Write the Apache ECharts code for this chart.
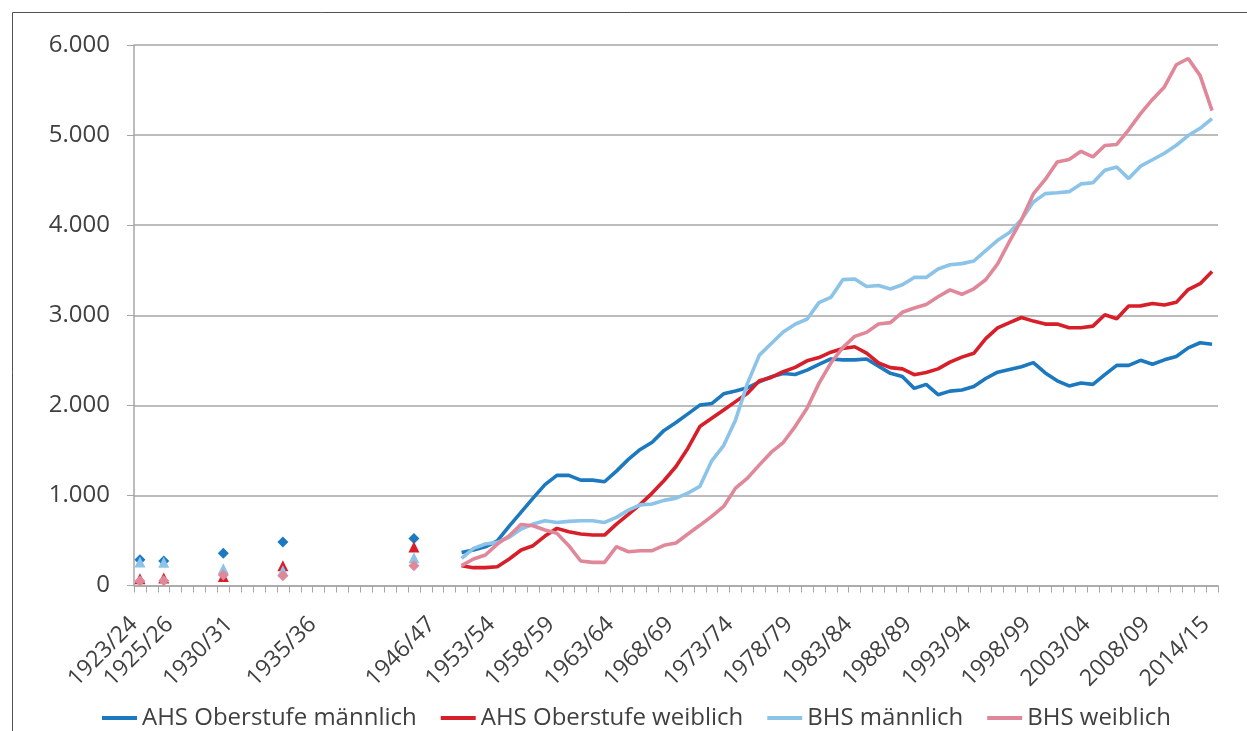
<!DOCTYPE html>
<html><head><meta charset="utf-8">
<script src="https://cdn.jsdelivr.net/npm/echarts@6/dist/echarts.min.js"></script>
<style>html,body{margin:0;padding:0;background:#fff}#c{width:1247px;height:731px}</style>
</head><body><div id="c"></div>
<script>
// school years on the category axis (one category per year, as in the source chart)
const categories = [
 '1923/24','1924/25','1925/26','1926/27','1927/28','1928/29','1929/30','1930/31','1931/32','1932/33',
 '1933/34','1934/35','1935/36','1936/37','1937/38','1938/39','1939/40','1940/41','1941/42','1942/43',
 '1943/44','1944/45','1945/46','1946/47','1947/48','1948/49','1949/50','1950/51','1951/52','1952/53',
 '1953/54','1954/55','1955/56','1956/57','1957/58','1958/59','1959/60','1960/61','1961/62','1962/63',
 '1963/64','1964/65','1965/66','1966/67','1967/68','1968/69','1969/70','1970/71','1971/72','1972/73',
 '1973/74','1974/75','1975/76','1976/77','1977/78','1978/79','1979/80','1980/81','1981/82','1982/83',
 '1983/84','1984/85','1985/86','1986/87','1987/88','1988/89','1989/90','1990/91','1991/92','1992/93',
 '1993/94','1994/95','1995/96','1996/97','1997/98','1998/99','1999/00','2000/01','2001/02','2002/03',
 '2003/04','2004/05','2005/06','2006/07','2007/08','2008/09','2009/10','2010/11','2011/12','2012/13',
 '2014/15'
];
// labels shown on the x axis and the category slot each one sits under in the source picture
const tickLabels = ['1923/24','1925/26','1930/31','1935/36','1946/47','1953/54','1958/59','1963/64','1968/69',
 '1973/74','1978/79','1983/84','1988/89','1993/94','1998/99','2003/04','2008/09','2014/15'];
const tickSlots = [0,3,8,15,25,30,35,40,45,50,55,60,65,70,75,80,85,90];
const yTicks = [0,1000,2000,3000,4000,5000,6000];

// isolated early observations
const earlyYears = ['1923/24','1925/26','1930/31','1935/36','1946/47'];
const ahsMaleEarly   = [285, 272, 357, 482, 523];
const ahsFemaleEarly = [76, 83, 100, 220, 427];
const bhsMaleEarly   = [262, 257, 185, 165, 309];
const bhsFemaleEarly = [50, 52, 116, 109, 220];

// continuous series from 1950/51 to 2014/15
const lineStartYear = '1950/51';
const ahsMale = [365,395,430,495,660,815,970,1120,1222,1222,1170,1170,1152,1270,1400,1510,1590,1722,1810,1905,
 2002,2020,2128,2160,2195,2262,2317,2354,2343,2391,2455,2515,2505,2505,2515,2435,2355,2320,2188,2233,
 2118,2158,2170,2210,2298,2368,2398,2428,2474,2360,2272,2215,2248,2233,2340,2444,2444,2500,2456,2505,
 2542,2638,2695,2678];
const ahsFemale = [220,198,198,209,294,394,442,549,634,597,571,560,560,682,789,900,1026,1166,1321,1524,
 1764,1856,1948,2041,2133,2273,2310,2373,2421,2494,2530,2590,2630,2650,2580,2470,2419,2405,2340,2365,
 2405,2480,2535,2578,2740,2860,2918,2975,2935,2902,2902,2862,2862,2879,3005,2962,3102,3104,3130,3113,
 3143,3285,3350,3485];
const bhsMale = [301,412,460,479,534,627,682,719,700,712,719,719,700,756,837,895,904,945,970,1026,
 1100,1384,1553,1838,2244,2557,2686,2815,2900,2956,3140,3198,3395,3403,3320,3330,3292,3338,3420,3420,
 3514,3560,3573,3602,3718,3832,3918,4062,4258,4350,4360,4372,4458,4470,4610,4646,4517,4655,4726,4798,
 4887,4995,5075,5183];
const bhsFemale = [220,294,338,460,553,678,664,616,579,442,272,257,257,431,375,386,387,446,472,572,
 668,768,878,1081,1192,1339,1480,1587,1764,1967,2244,2470,2640,2765,2810,2903,2918,3033,3080,3120,
 3205,3282,3233,3294,3394,3570,3820,4060,4347,4508,4702,4730,4820,4758,4884,4896,5059,5238,5396,5535,
 5781,5850,5660,5272];

const names = ['AHS Oberstufe männlich','AHS Oberstufe weiblich','BHS männlich','BHS weiblich'];
const colors = ['#1c79bf','#d71f2a','#8cc3e8','#e0889a'];
const markers = ['diamond','triangle','triangle','diamond'];

function lineData(vals){
  const d = categories.map(() => '-');
  const s = categories.indexOf(lineStartYear);
  vals.forEach((v,i) => { d[s+i] = v; });
  return d;
}
function earlyData(vals){
  const d = categories.map(() => '-');
  earlyYears.forEach((y,i) => { d[categories.indexOf(y)] = vals[i]; });
  return d;
}
const lines = [ahsMale, ahsFemale, bhsMale, bhsFemale];
const earlies = [ahsMaleEarly, ahsFemaleEarly, bhsMaleEarly, bhsFemaleEarly];

const series = [];
names.forEach((n,k) => {
  series.push({name:n, type:'line', data: lineData(lines[k]), symbol:'none', connectNulls:false,
    lineStyle:{color:colors[k], width:3.6}, itemStyle:{color:colors[k]}, z: 2+k});
});
names.forEach((n,k) => {
  series.push({name:n, type:'scatter', data: earlyData(earlies[k]), symbol: markers[k],
    symbolSize: 11, itemStyle:{color:colors[k], opacity:1}, z: 10+k});
});

const txt = '#404040';
const font = 'Open Sans';
const chart = echarts.init(document.getElementById('c'), null, {renderer:'canvas'});
chart.setOption({
  animation:false,
  backgroundColor:'#fff',
  graphic:[{type:'rect', shape:{x:12.5, y:12.5, width:1400, height:900},
    style:{fill:'none', stroke:'#505050', lineWidth:1}, silent:true}],
  grid:{left:134, right:29, top:45, bottom:145.5, containLabel:false},
  legend:{data: names.map(n => ({name:n, icon:'rect'})), left:102, top:706, padding:0, itemWidth:35, itemHeight:4,
    itemGap:24, selectedMode:false, textStyle:{fontFamily:font, fontSize:24, color:txt, lineHeight:24}},
  xAxis:{type:'category', data:categories, boundaryGap:true,
    axisLine:{lineStyle:{color:'#a6a6a6', width:1.5}},
    axisTick:{show:true, interval:0, length:7, lineStyle:{color:'#a6a6a6'}},
    axisLabel:{interval:(i) => tickSlots.includes(i),
      formatter:(v,i) => { const j = tickSlots.indexOf(i); return j >= 0 ? tickLabels[j] : ''; },
      rotate:45, align:'right', verticalAlign:'top', padding:[0,20,0,0],
      margin:13, fontFamily:font, fontSize:23, color:txt, lineHeight:23, hideOverlap:false,
      showMinLabel:true, showMaxLabel:true},
    splitLine:{show:false}},
  yAxis:{type:'value', min:0, max:6000, interval:1000,
    axisLine:{show:true, lineStyle:{color:'#a6a6a6', width:1.5}},
    axisTick:{show:true, length:7, lineStyle:{color:'#a6a6a6'}},
    splitLine:{lineStyle:{color:'#a6a6a6', width:1.5}},
    axisLabel:{margin:24, fontFamily:font, fontSize:24, color:txt,
      formatter: v => yTicks.includes(v) ? (v === 0 ? '0' : (v/1000) + '.000') : ''}},
  series: series
});
</script></body></html>
